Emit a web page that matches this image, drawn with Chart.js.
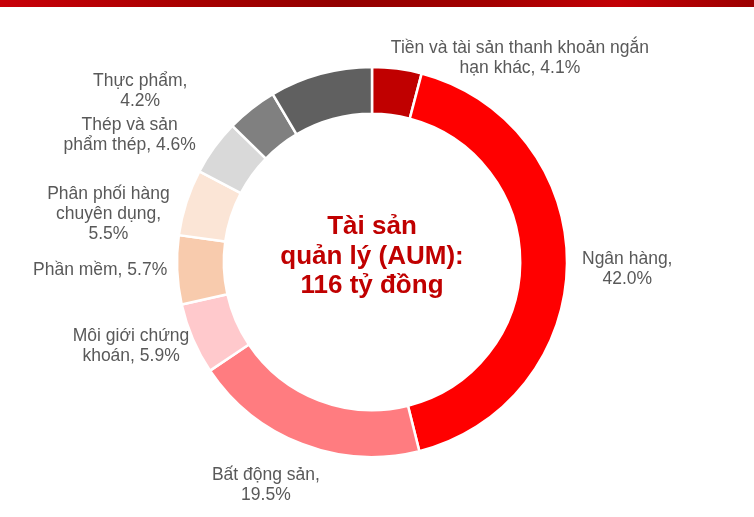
<!DOCTYPE html>
<html lang="vi">
<head>
<meta charset="utf-8">
<title>Tài sản quản lý (AUM)</title>
<script src="https://cdn.jsdelivr.net/npm/chart.js@4/dist/chart.umd.min.js"></script>
<style>
  html, body { margin: 0; padding: 0; background: #ffffff; }
  .frame { position: relative; width: 754px; height: 517px; overflow: hidden; }
  .top-bar {
    position: absolute; left: 0; top: 0; width: 754px; height: 7px;
    background: linear-gradient(90deg, #c80008 0%, #a80000 25%, #930000 45%, #a30000 65%, #c30005 82%, #9c0000 100%);
  }
  .chart-box { position: absolute; left: 0; top: 0; width: 754px; height: 517px; }
</style>
</head>
<body>
<div class="frame">
  <div class="chart-box"><canvas id="aumChart"></canvas></div>
  <div class="top-bar"></div>
</div>
<script>
// Dữ liệu cơ cấu danh mục (% AUM)
const categories = [
  'Tiền và tài sản thanh khoản ngắn hạn khác',
  'Ngân hàng',
  'Bất động sản',
  'Môi giới chứng khoán',
  'Phần mềm',
  'Phân phối hàng chuyên dụng',
  'Thép và sản phẩm thép',
  'Thực phẩm',
  'Khác'
];
const shares = [4.1, 42.0, 19.5, 5.9, 5.7, 5.5, 4.6, 4.2, 8.5];
const centerLines = ['Tài sản', 'quản lý (AUM):', '116 tỷ đồng'];

// Màu các lát
const sliceColors = ['#c00000', '#ff0000', '#ff7c80', '#ffc9cc', '#f8cbad', '#fbe5d6', '#d9d9d9', '#808080', '#606060'];

// Cách đặt nhãn: độ rộng tối đa trước khi xuống dòng, và độ dịch so với vị trí hướng tâm
const labelLayout = [
  { maxWidth: 280, nudge: [105, 19] },
  { maxWidth: 100, nudge: [5, 6] },
  { maxWidth: 118, nudge: [-13, 13] },
  { maxWidth: 125, nudge: [1, -5] },
  { maxWidth: 150, nudge: [0, -1] },
  { maxWidth: 132, nudge: [-10, 24] },
  { maxWidth: 138, nudge: [-23, 5] },
  { maxWidth: 100, nudge: [-76, 6] },
  null
];

const LABEL_FONT = '17.5px "Liberation Sans", Arial, sans-serif';
const CENTER_FONT = 'bold 26px "Liberation Sans", Arial, sans-serif';
const LINE_HEIGHT = 20;
const CENTER_LINE_HEIGHT = 29.75;
const LABEL_GAP = 10;

/**
 * Ngắt dòng theo từ
 */
function wrapText(ctx, text, maxWidth) {
  const words = text.split(' ');
  const lines = [];
  let line = '';
  words.forEach(word => {
    const test = line ? line + ' ' + word : word;
    if (line && ctx.measureText(test).width > maxWidth) {
      lines.push(line);
      line = word;
    } else {
      line = test;
    }
  });
  if (line) lines.push(line);
  return lines;
}

// Plugin vẽ nhãn quanh vòng và chữ ở giữa
const sliceLabels = {
  id: 'sliceLabels',
  afterDatasetsDraw(chart) {
    const ctx = chart.ctx;
    const meta = chart.getDatasetMeta(0);
    ctx.save();
    ctx.textAlign = 'center';
    ctx.textBaseline = 'middle';

    ctx.font = LABEL_FONT;
    ctx.fillStyle = '#595959';
    meta.data.forEach((arc, i) => {
      const layout = labelLayout[i];
      if (!layout) return;
      const p = arc.getProps(['x', 'y', 'startAngle', 'endAngle', 'outerRadius'], true);
      const mid = (p.startAngle + p.endAngle) / 2;
      const dx = Math.cos(mid);
      const dy = Math.sin(mid);
      const text = categories[i] + ', ' + shares[i].toFixed(1) + '%';
      const lines = wrapText(ctx, text, layout.maxWidth);
      const w = Math.max(...lines.map(l => ctx.measureText(l).width));
      const h = lines.length * LINE_HEIGHT;
      const r = p.outerRadius + LABEL_GAP;
      const cx = p.x + dx * r + dx * w / 2 + layout.nudge[0];
      const cy = p.y + dy * r + dy * h / 2 + layout.nudge[1];
      lines.forEach((line, k) => {
        ctx.fillText(line, cx, cy - h / 2 + LINE_HEIGHT / 2 + k * LINE_HEIGHT);
      });
    });

    // Chữ ở giữa vòng
    const first = meta.data[0];
    if (first) {
      ctx.font = CENTER_FONT;
      ctx.fillStyle = '#c00000';
      const top = first.y - 5.5 - (centerLines.length - 1) * CENTER_LINE_HEIGHT / 2;
      centerLines.forEach((line, k) => {
        ctx.fillText(line, first.x, top + k * CENTER_LINE_HEIGHT);
      });
    }
    ctx.restore();
  }
};

document.addEventListener('DOMContentLoaded', function() {
  const canvas = document.getElementById('aumChart');
  new Chart(canvas, {
    type: 'doughnut',
    data: {
      labels: categories,
      datasets: [{
        data: shares,
        backgroundColor: sliceColors,
        borderColor: '#ffffff',
        borderWidth: 2.5,
        hoverOffset: 0
      }]
    },
    options: {
      responsive: true,
      maintainAspectRatio: false,
      animation: false,
      radius: 195,
      cutout: '76%',
      layout: {
        padding: { left: 0, right: 10, top: 7, bottom: 0 }
      },
      plugins: {
        legend: { display: false },
        tooltip: { enabled: false }
      }
    },
    plugins: [sliceLabels]
  });
});
</script>
</body>
</html>
